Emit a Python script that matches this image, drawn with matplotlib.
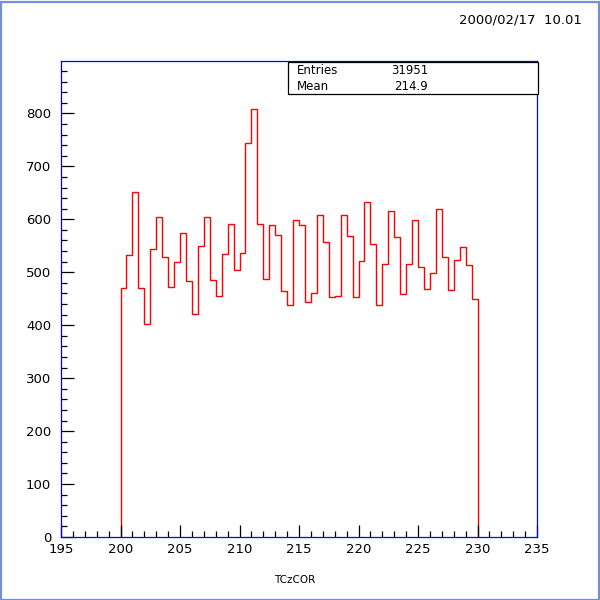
import numpy as np
import matplotlib
matplotlib.use("Agg")
import matplotlib.pyplot as plt
from matplotlib.patches import Rectangle
from matplotlib.ticker import MultipleLocator

# Data: 60 bins of width 0.5 from 200 to 230
bin_lo = 200.0
bin_hi = 230.0
n_bins = 60
counts = [470, 532, 651, 471, 403, 543, 605, 528, 473, 520,
          575, 483, 422, 549, 604, 485, 456, 534, 592, 505,
          536, 744, 808, 592, 487, 589, 570, 464, 439, 598,
          589, 443, 460, 609, 557, 453, 455, 609, 568, 454,
          522, 632, 553, 439, 515, 615, 566, 458, 515, 598,
          509, 468, 498, 619, 528, 466, 524, 547, 513, 449]
x_ticks = [195, 200, 205, 210, 215, 220, 225, 230, 235]
y_ticks = [0, 100, 200, 300, 400, 500, 600, 700, 800]
stats_labels = ["Entries", "Mean"]
stats_values = ["31951", "214.9"]
date_text = "2000/02/17  10.01"
x_title = "TCzCOR"

edges = np.linspace(bin_lo, bin_hi, n_bins + 1)

fig = plt.figure(figsize=(6, 6), dpi=100)
fig.patch.set_facecolor("white")
ax = fig.add_axes([61/600, 63/600, 476/600, 476/600])
ax.stairs(counts, edges, baseline=0, color="red", lw=1.0)
ax.set_xlim(195, 235)
ax.set_ylim(0, 899)
ax.set_xticks(x_ticks)
ax.set_yticks(y_ticks)
ax.xaxis.set_minor_locator(MultipleLocator(1))
ax.yaxis.set_minor_locator(MultipleLocator(20))
for s in ax.spines.values():
    s.set_color("#0000ff")
    s.set_linewidth(0.9)
ax.tick_params(which="major", direction="in", length=9, width=0.9, color="black",
               labelsize=9.5, pad=4)
ax.tick_params(which="minor", direction="in", length=4.5, width=0.9, color="black")
ax.tick_params(axis="y", which="major", pad=7)
ax.set_xlabel(x_title, fontsize=7.5)
ax.xaxis.set_label_coords(0.49, -0.08)

# Stats box
fig.patches.append(Rectangle((287.5/600, 1 - 94/600), 250/600, 32.5/600,
                             transform=fig.transFigure, facecolor="white",
                             edgecolor="black", lw=0.9, zorder=2))
fig.text(297/600, 1 - 70.5/600, stats_labels[0], fontsize=8.5, va="center", ha="left", zorder=3)
fig.text(297/600, 1 - 86.5/600, stats_labels[1], fontsize=8.5, va="center", ha="left", zorder=3)
fig.text(428/600, 1 - 70.5/600, stats_values[0], fontsize=8.5, va="center", ha="right", zorder=3)
fig.text(428/600, 1 - 86.5/600, stats_values[1], fontsize=8.5, va="center", ha="right", zorder=3)

# Date
fig.text(582/600, 1 - 20/600, date_text, fontsize=9.5, va="center", ha="right")

# Outer frame
fig.patches.append(Rectangle((0.5/600, 0.5/600), 598/600, 598/600, transform=fig.transFigure,
                             facecolor="none", edgecolor="#7090d8", lw=1.6, zorder=5))

fig.savefig("out.png", dpi=100)
